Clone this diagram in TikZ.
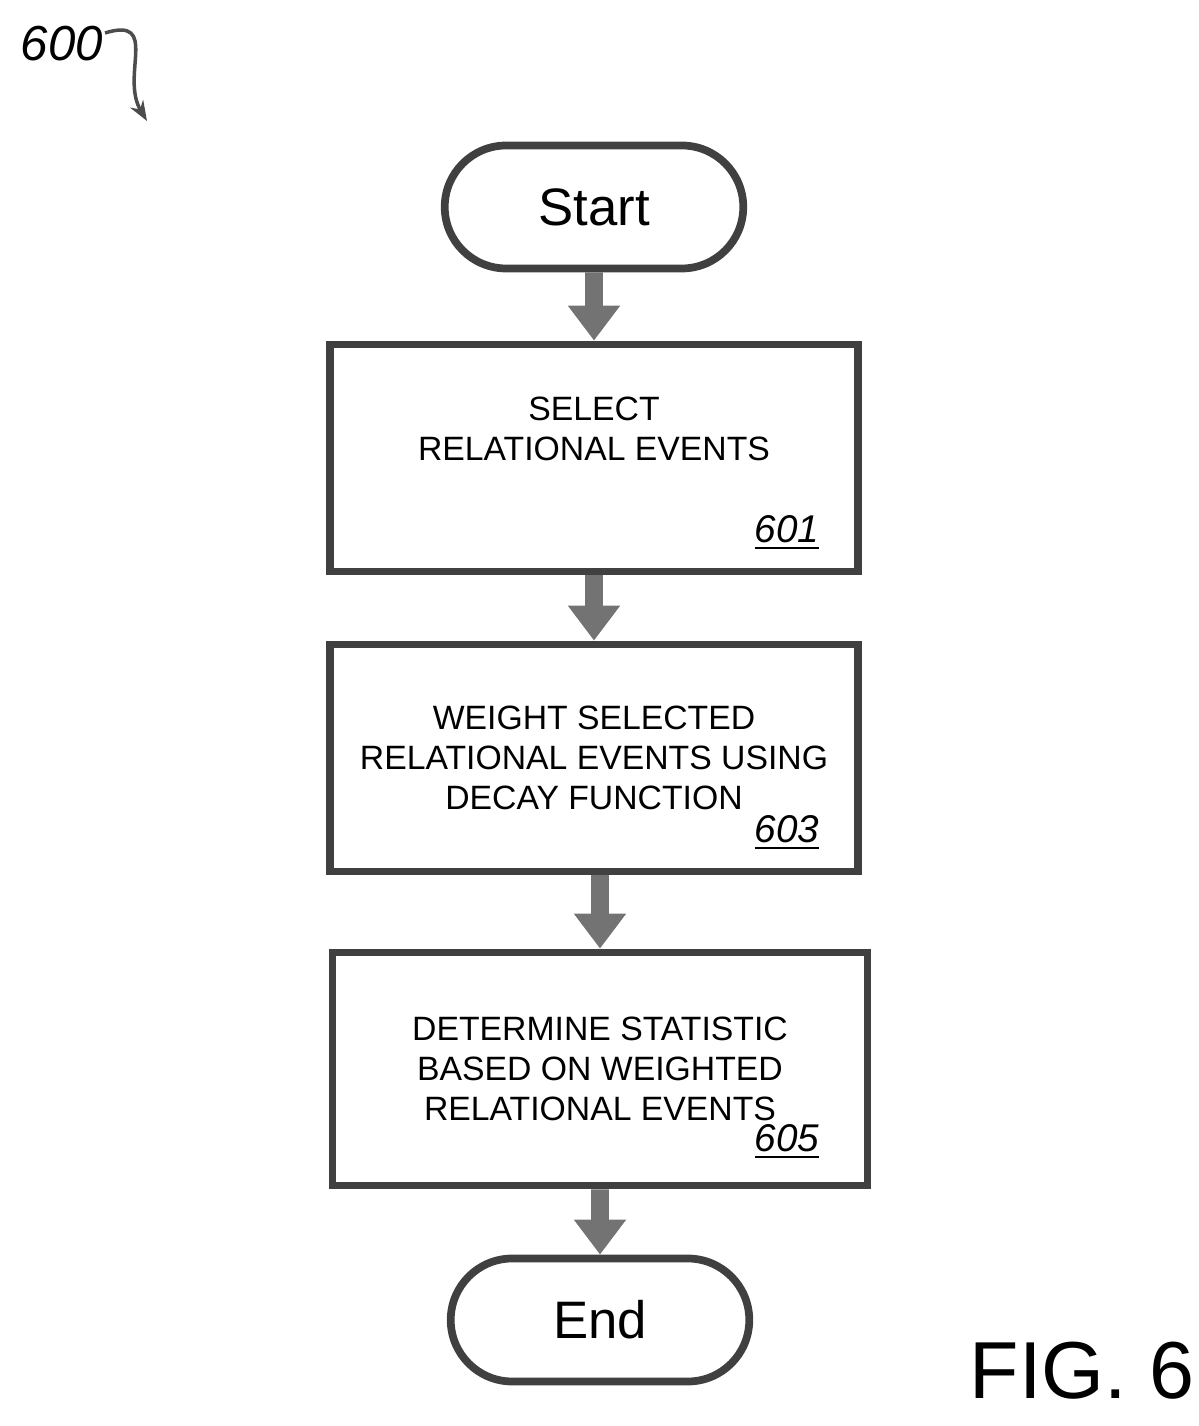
\documentclass[tikz,border=0pt]{standalone}
\usepackage{fontspec}
\setmainfont{Liberation Sans}
\usetikzlibrary{positioning,arrows.meta,shapes.misc}
\tikzset{
  term/.style={rounded rectangle, draw=black!75, line width=2.2pt, fill=white,
    minimum width=3.22cm, minimum height=1.23cm, font=\fontsize{15}{18}\selectfont},
  procbox/.style={rectangle, draw=black!75, line width=2.2pt, fill=white,
    minimum width=5.28cm, minimum height=2.27cm, align=center,
    font=\fontsize{9.6}{11.3}\selectfont},
  flow/.style={draw=black!55, line width=5pt, -{Triangle[length=0.35cm,width=0.5cm]}},
  refnum/.style={font=\itshape\fontsize{11}{12}\selectfont}
}
\begin{document}
\begin{tikzpicture}
\useasboundingbox (0,0) rectangle (11.99,14.26);
% nodes
\node[term] (start) at (5.94,12.19) {Start};
\node[procbox] (s601) at (5.94,9.68) {};
\node[font=\fontsize{9.6}{11.3}\selectfont, align=center] (t601) at (5.94,9.97) {SELECT\\RELATIONAL EVENTS};
\node[procbox] (s603) at (5.94,6.68) {WEIGHT SELECTED\\RELATIONAL EVENTS USING\\DECAY FUNCTION};
\node[procbox, minimum width=5.35cm, minimum height=2.33cm] (s605) at (6.00,3.57) {DETERMINE STATISTIC\\BASED ON WEIGHTED\\RELATIONAL EVENTS};
\node[term] (end) at (6.00,1.06) {End};
% reference numbers
\node[refnum] at (7.87,8.93) {\underline{601}};
\node[refnum] at (7.87,5.93) {\underline{603}};
\node[refnum] at (7.87,2.84) {\underline{605}};
\node[refnum, font=\itshape\fontsize{14}{16}\selectfont] (fig) at (0.62,13.82) {600};
\draw[black!70, line width=1pt, -{Stealth[length=0.2cm]}] (1.05,13.93) .. controls (1.6,14.1) and (1.2,13.5) .. (1.47,13.05);
\node[font=\fontsize{23}{26}\selectfont] (cap) at (10.82,0.55) {FIG. 6};
% connectors
\draw[flow] (start) -- (s601);
\draw[flow] (s601) -- (s603);
\draw[flow] (s603.south -| s605) -- (s605);
\draw[flow] (s605) -- (end);
\end{tikzpicture}
\end{document}
